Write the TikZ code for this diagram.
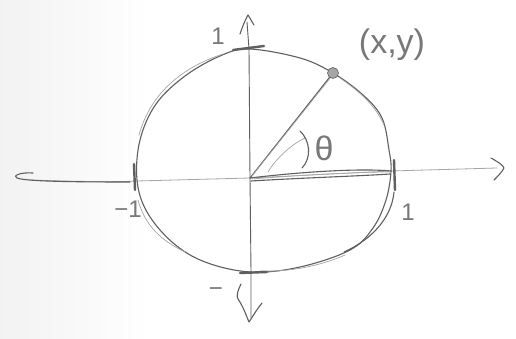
\documentclass[tikz,border=0pt]{standalone}
\usepackage{fontspec}
\setmainfont{Liberation Sans}
\definecolor{pencil}{RGB}{95,95,95}
\definecolor{pencillight}{RGB}{165,165,165}
\definecolor{paper}{RGB}{242,242,242}
\definecolor{ink}{RGB}{120,120,120}
\tikzset{
  stroke/.style={draw=pencil, line width=1.1pt},
  faint/.style={draw=pencillight, line width=0.7pt},
  tickmark/.style={draw=pencil, line width=2.4pt},
  lbl/.style={text=ink, inner sep=0pt, font=\fontsize{24}{24}\selectfont},
}
\begin{document}
\begin{tikzpicture}[x=1pt,y=-1pt,line cap=round,line join=round]
\useasboundingbox (0,0) rectangle (516,339);
\fill[white] (0,0) rectangle (516,339);
\shade[left color=paper, right color=white] (0,0) rectangle (150,339);
% coordinates
\coordinate (O) at (250,178);
\coordinate (P) at (333,73);
\coordinate (R) at (391,171);
\coordinate (T) at (249,49);
\coordinate (L) at (137,180);
\coordinate (B) at (251,272);
% horizontal axis
\draw[draw=pencillight, line width=0.8pt] (30,180) .. controls (90,182) and (120,182) .. (137,181) -- (O) -- (R) -- (497,168);
\draw[stroke] (33,173) .. controls (20,172) and (12,176) .. (17,178) .. controls (25,181) and (60,182) .. (130,182);
\draw[stroke] (491,158) .. controls (498,162) and (503,165) .. (504,168) .. controls (502,172) and (498,176) .. (494,180);
% vertical axis
\draw[draw=pencil, line width=0.9pt] (247,22) -- (T) -- (O) -- (B) -- (251,318);
\draw[stroke] (240,34) .. controls (242,28) and (245,20) .. (248,15) .. controls (250,18) and (252,22) .. (254,25);
\draw[stroke] (241,284) .. controls (238,290) and (236,296) .. (238,299) .. controls (243,306) and (246,315) .. (249,322) .. controls (253,316) and (257,309) .. (262,303);
% circle (main stroke)
\draw[stroke] plot[smooth cycle, tension=0.6] coordinates {
  (T) (300,58) (P) (363,95) (382,118) (389,150) (R) (386,200) (373,228)
  (350,250) (300,267) (B) (205,262) (172,242) (147,212) (L) (140,140)
  (156,104) (185,76) (220,56)};
% faint extra sketch strokes
\draw[faint] (223,54) .. controls (180,68) and (150,95) .. (139,135);
\draw[faint] (340,78) .. controls (360,92) and (375,105) .. (384,125);
\draw[faint] (138,200) .. controls (145,225) and (160,240) .. (185,252);
\draw[faint] (260,271) .. controls (290,272) and (320,266) .. (345,255);
\draw[stroke] (394,192) .. controls (392,215) and (375,238) .. (344,252);
% ticks
\draw[tickmark] (233,50) -- (264,46);
\draw[tickmark] (394,160) -- (395,190);
\draw[tickmark] (134,164) -- (135,190);
\draw[tickmark] (240,273) -- (267,272);
% radius lines
\draw[stroke] (O) -- (P);
\draw[faint] (252,176) -- (331,77);
\draw[faint] (268,172) .. controls (275,160) and (290,145) .. (305,138);
\draw[stroke] (O) .. controls (300,172) and (360,168) .. (R);
\draw[stroke] (251,181) .. controls (300,178) and (360,176) .. (390,174);
\draw[faint] (252,179) .. controls (300,175) and (360,172) .. (390,172);
% theta arc
\draw[stroke] (300,131) .. controls (310,140) and (312,158) .. (302,168);
% point
\fill[pencillight, draw=pencil, line width=0.6pt] (P) circle (5.5pt);
% labels
\node[lbl] (one top) at (218,36) {1};
\node[lbl] (one right) at (408,212) {1};
\node[lbl, anchor=east] (m one left) at (142,209) {−1};
\node[lbl] (m one bottom) at (216,292) {−};
\node[lbl, font=\fontsize{34}{34}\selectfont] (theta) at (324,148) {θ};
\node[lbl, font=\fontsize{34}{34}\selectfont] (xy) at (392,45) {(x,y)};
\end{tikzpicture}
\end{document}
